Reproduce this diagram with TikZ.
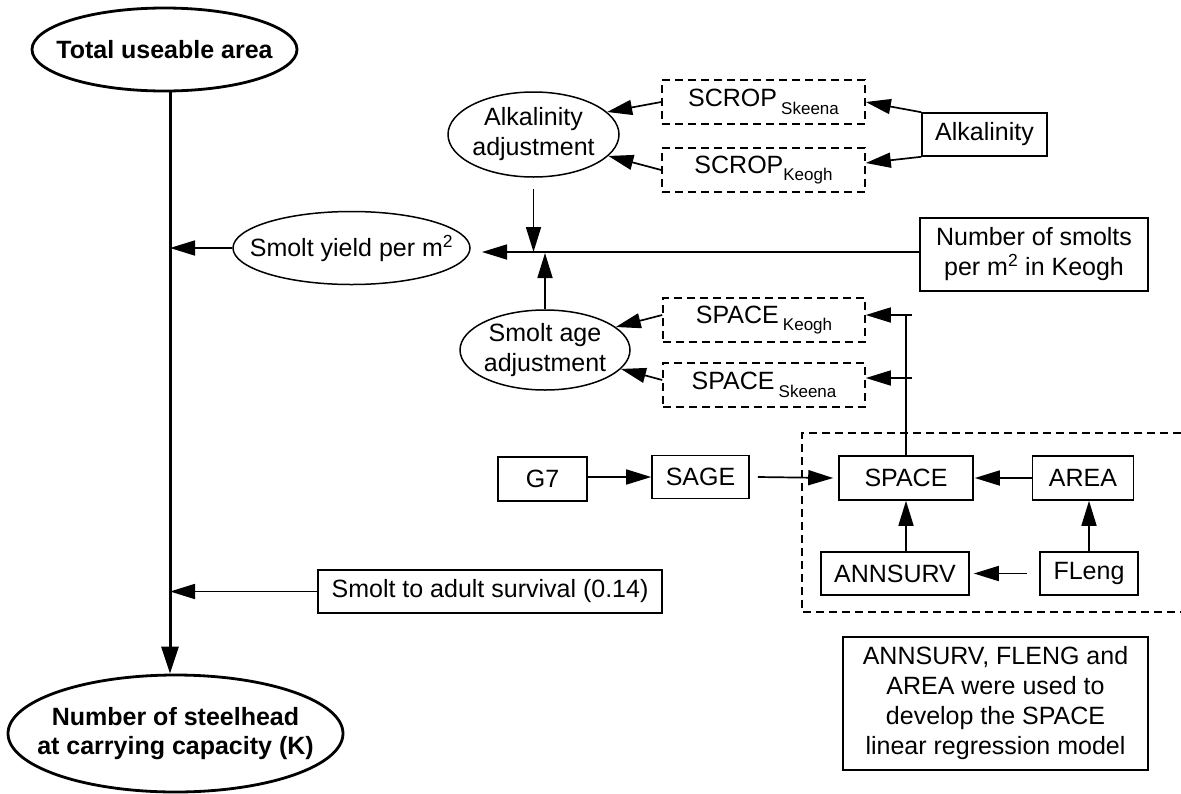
\documentclass[tikz,border=0pt]{standalone}
\usepackage{fontspec}
\setmainfont{Liberation Sans}
\usetikzlibrary{arrows.meta,shapes.geometric}
\newcommand{\mysub}[1]{\raisebox{-0.3em}{\fontsize{17}{17}\selectfont #1}}
\begin{document}
\begin{tikzpicture}[x=1pt,y=-1pt,
 every node/.style={font=\fontsize{25}{30}\selectfont, inner sep=0pt, align=center},
 box/.style={draw, line width=1.6pt, rectangle},
 dbox/.style={draw, line width=1.6pt, rectangle, dash pattern=on 8pt off 5pt},
 ell/.style={draw, line width=1.5pt, ellipse},
 bell/.style={draw, line width=2.8pt, ellipse},
 btext/.style={font=\fontsize{25}{29}\selectfont\bfseries},
 conn/.style={line width=1.7pt},
 arr/.style={line width=1.7pt, -{Triangle[length=25pt,width=15pt]}},
 tarr/.style={line width=3pt, -{Triangle[length=27pt,width=17pt]}},
 region/.style={line width=1.6pt, dash pattern=on 8pt off 5pt},
]
\useasboundingbox (0,0) rectangle (1181,793);

% ellipses (outline nodes) and their texts
\node[bell, minimum width=265pt, minimum height=83pt] (tua) at (164.5,49.5) {};
\node[btext] (tuat) at (tua.center) {Total useable area};
\node[bell, minimum width=335pt, minimum height=117pt] (nsc) at (175.5,733.5) {};
\node[btext] (nsct) at (nsc.center) {Number of steelhead\\at carrying capacity (K)};
\node[ell, minimum width=237pt, minimum height=73pt] (sy) at (351.5,248) {};
\node (syt) at (sy.center) {Smolt yield per m\textsuperscript{2}};
\node[ell, minimum width=171pt, minimum height=85pt] (aa) at (533.5,134.5) {};
\node (aat) at (aa.center) {Alkalinity\\adjustment};
\node[ell, minimum width=170pt, minimum height=80pt] (sa) at (545,350) {};
\node (sat) at (sa.center) {Smolt age\\adjustment};

% dashed boxes
\node[dbox, minimum width=203pt, minimum height=44pt] (scs) at (763.5,102) {SCROP\,\mysub{Skeena}};
\node[dbox, minimum width=203pt, minimum height=44pt] (sck) at (763.5,170) {SCROP\mysub{Keogh}};
\node[dbox, minimum width=202pt, minimum height=44pt] (spk) at (764,320) {SPACE\,\mysub{Keogh}};
\node[dbox, minimum width=202pt, minimum height=44pt] (sps) at (764,385) {SPACE\,\mysub{Skeena}};

% solid boxes
\node[box, minimum width=125pt, minimum height=43pt] (alk) at (984.5,134.5) {Alkalinity};
\node[box, minimum width=228pt, minimum height=73pt] (nsm) at (1034,254.5) {Number of smolts\\per m\textsuperscript{2} in Keogh};
\node[box, minimum width=89pt, minimum height=44pt] (g7) at (542.5,479) {G7};
\node[box, minimum width=97pt, minimum height=43pt] (sage) at (700.5,477) {SAGE};
\node[box, minimum width=134pt, minimum height=44pt] (space) at (906,478) {SPACE};
\node[box, minimum width=101pt, minimum height=44pt] (area) at (1083,478) {AREA};
\node[box, minimum width=148pt, minimum height=43pt] (ann) at (895,573.5) {ANNSURV};
\node[box, minimum width=98pt, minimum height=43pt] (fleng) at (1089,573.5) {FLeng};
\node[box, minimum width=344pt, minimum height=43pt] (surv) at (490,591.5) {Smolt to adult survival (0.14)};
\node[box, minimum width=305pt, minimum height=133pt] (note) at (995.5,703.5) {ANNSURV, FLENG and\\AREA were used to\\develop the SPACE\\linear regression model};

% dashed region
\draw[region] (1181,433) -- (802,433) -- (802,612) -- (1181,612);

% coordinates
\coordinate (vx) at (170,0);
\coordinate (hl) at (482,252);
\coordinate (t1) at (912,315);
\coordinate (t2) at (912,378);

% main vertical
\draw[tarr] (tua.south -| vx) -- (nsc.north -| vx);
\draw[arr] (sy.west) -- (sy.west -| vx);
\draw[arr] (surv.west) -- (surv.west -| vx);

% horizontal line from number of smolts
\draw[arr] (nsm.west |- hl) -- (hl);
\draw[arr] ([yshift=-11pt]aa.south) -- (aa.south |- hl);
\draw[arr] (sa.north) -- ([yshift=-1pt]sa.north |- hl);

% alkalinity
\draw[arr] (scs.west) -- (aa.17);
\draw[arr] (sck.west) -- (aa.-16);
\draw[arr] (alk.north west) -- (scs.east);
\draw[arr] (alk.south west) -- ([yshift=7pt]sck.east);

% smolt age
\draw[arr] ([yshift=5pt]spk.west) -- (sa.18);
\draw[arr] ([yshift=5pt]sps.west) -- (sa.-14);
\draw[conn] (space.north) -- (space.north |- t1);
\draw[arr] (t1) -- (t1 -| spk.east);
\draw[arr] (t2) -- (t2 -| sps.east);

% lower chain
\draw[arr] (g7.east |- sage.west) -- (sage.west);
\draw[arr] ([xshift=8pt]sage.east) -- ([xshift=-5pt]space.west);
\draw[arr] (area.west) -- ([xshift=1pt]space.east);
\draw[arr] ([xshift=-12pt]fleng.west) -- ([xshift=4pt]ann.east);
\draw[arr] (ann.north -| space.south) -- (space.south);
\draw[arr] (fleng.north) -- (fleng.north |- area.south);
\end{tikzpicture}
\end{document}
